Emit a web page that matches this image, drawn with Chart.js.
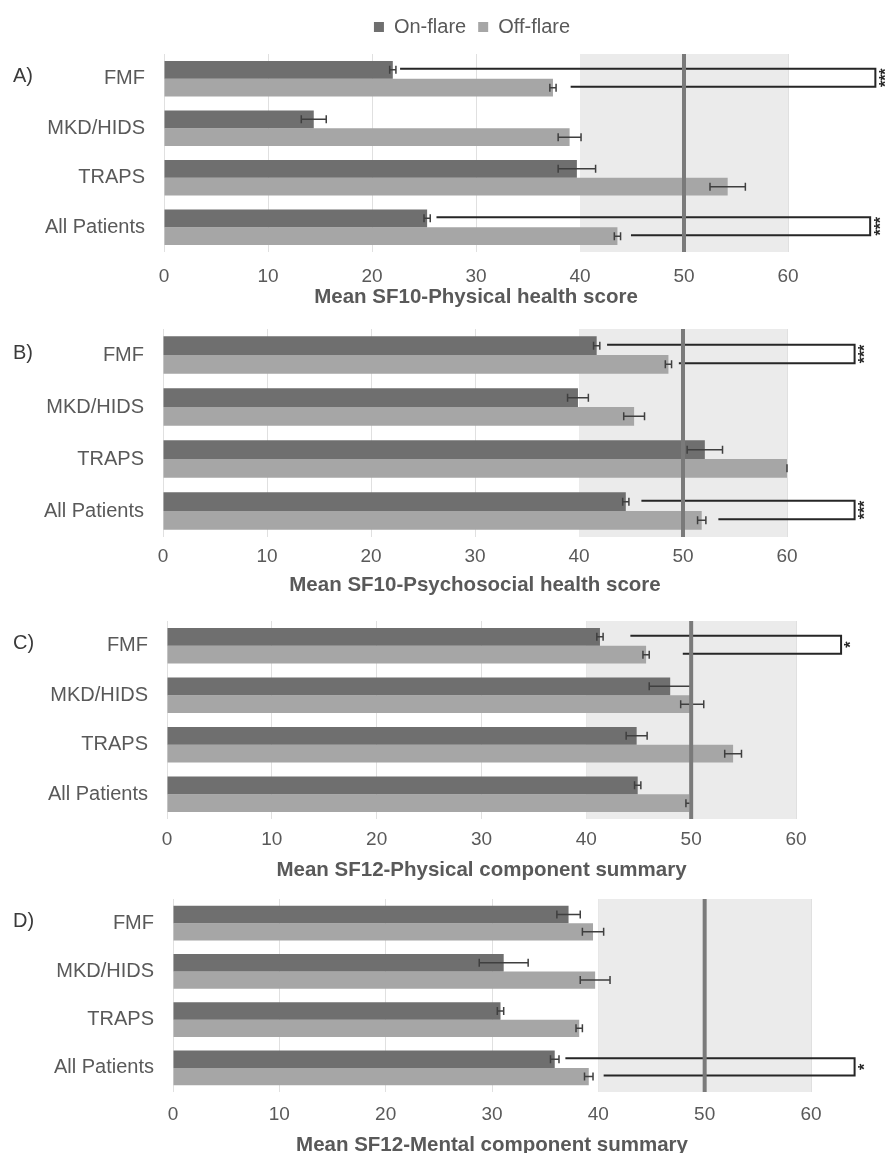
<!DOCTYPE html>
<html>
<head>
<meta charset="utf-8">
<script src="https://cdn.jsdelivr.net/npm/chart.js@4.4.1/dist/chart.umd.min.js"></script>
<style>
  html, body { margin: 0; padding: 0; background: #ffffff; width: 885px; height: 1153px; overflow: hidden; }
  body { position: relative; }
  canvas { position: absolute; left: 0; }
</style>
</head>
<body>
<canvas id="panelA"></canvas>
<canvas id="panelB"></canvas>
<canvas id="panelC"></canvas>
<canvas id="panelD"></canvas>
<script>
// ---- data ----
const categories = ['FMF', 'MKD/HIDS', 'TRAPS', 'All Patients'];
const seriesNames = ['On-flare', 'Off-flare'];
const xTicks = [0, 10, 20, 30, 40, 50, 60];
const panelLetters = ['A)', 'B)', 'C)', 'D)'];
const axisTitles = [
  'Mean SF10-Physical health score',
  'Mean SF10-Psychosocial health score',
  'Mean SF12-Physical component summary',
  'Mean SF12-Mental component summary'
];

// A) SF10 physical
const onFlareA = [22.0, 14.4, 39.7, 25.3];
const onFlareErrA = [0.3, 1.2, 1.8, 0.3];
const offFlareA = [37.4, 39.0, 54.2, 43.6];
const offFlareErrA = [0.3, 1.1, 1.7, 0.3];

// B) SF10 psychosocial
const onFlareB = [41.7, 39.9, 52.1, 44.5];
const onFlareErrB = [0.3, 1.0, 1.7, 0.3];
const offFlareB = [48.6, 45.3, 60.0, 51.8];
const offFlareErrB = [0.3, 1.0, 0.0, 0.4];

// C) SF12 physical
const onFlareC = [41.3, 48.0, 44.8, 44.9];
const onFlareErrC = [0.3, 2.0, 1.0, 0.3];
const offFlareC = [45.7, 50.1, 54.0, 49.8];
const offFlareErrC = [0.3, 1.1, 0.8, 0.3];

// D) SF12 mental
const onFlareD = [37.2, 31.1, 30.8, 35.9];
const onFlareErrD = [1.1, 2.3, 0.3, 0.4];
const offFlareD = [39.5, 39.7, 38.2, 39.1];
const offFlareErrD = [1.0, 1.4, 0.3, 0.4];

// normative range and population mean
const normalRange = [40, 60];
const populationMean = 50;

// significance brackets, in score units along the x axis
const bracketsA = [
  { category: 'FMF', onFrom: 22.7, offFrom: 39.1, to: 68.4, mark: '***' },
  { category: 'All Patients', onFrom: 26.2, offFrom: 44.9, to: 67.9, mark: '***' }
];
const bracketsB = [
  { category: 'FMF', onFrom: 42.7, offFrom: 49.6, to: 66.5, mark: '***' },
  { category: 'All Patients', onFrom: 46.0, offFrom: 53.4, to: 66.5, mark: '***' }
];
const bracketsC = [
  { category: 'FMF', onFrom: 44.2, offFrom: 49.2, to: 64.3, mark: '*' }
];
const bracketsD = [
  { category: 'All Patients', onFrom: 36.9, offFrom: 40.5, to: 64.1, mark: '*' }
];

// ---- styling ----
const FONT = '"Liberation Sans", Arial, sans-serif';
const COLORS = {
  on: '#6f6f6f',
  off: '#a6a6a6',
  band: '#ebebeb',
  mean: '#7a7a7a',
  text: '#595959',
  letter: '#3a3a3a',
  bracket: '#262626',
  err: '#3f3f3f',
  grid: '#e0e0e0'
};

Chart.defaults.font.family = FONT;
Chart.defaults.color = COLORS.text;

// page geometry of each panel (pixels)
const panelLayout = [
  { id: 'panelA', top: 0,   areaTop: 54,  areaBottom: 252,  left: 164, right: 788, tickMid: 277,  titleMid: 297,  legend: true },
  { id: 'panelB', top: 318, areaTop: 329, areaBottom: 537,  left: 163, right: 787, tickMid: 557,  titleMid: 585,  legend: false },
  { id: 'panelC', top: 610, areaTop: 621, areaBottom: 819,  left: 167, right: 796, tickMid: 840,  titleMid: 870,  legend: false },
  { id: 'panelD', top: 888, areaTop: 899, areaBottom: 1092, left: 173, right: 811, tickMid: 1115, titleMid: 1145, legend: false }
];

const panelData = [
  { on: onFlareA, onErr: onFlareErrA, off: offFlareA, offErr: offFlareErrA, brackets: bracketsA },
  { on: onFlareB, onErr: onFlareErrB, off: offFlareB, offErr: offFlareErrB, brackets: bracketsB },
  { on: onFlareC, onErr: onFlareErrC, off: offFlareC, offErr: offFlareErrC, brackets: bracketsC },
  { on: onFlareD, onErr: onFlareErrD, off: offFlareD, offErr: offFlareErrD, brackets: bracketsD }
];

// ---- plugins ----
// centre the legend over the whole figure and lift it a little
const legendPlacePlugin = {
  id: 'legendPlace',
  beforeDraw(chart, args, opts) {
    const lg = chart.legend;
    if (!lg || !lg.options.display) return;
    const h = lg.bottom - lg.top;
    lg.left = opts.left;
    lg.right = opts.right;
    lg.top = opts.top;
    lg.bottom = opts.top + h;
  }
};

const rangeBandPlugin = {
  id: 'rangeBand',
  beforeDatasetsDraw(chart, args, opts) {
    const { ctx, chartArea: a, scales: { x } } = chart;
    const x0 = x.getPixelForValue(opts.from);
    const x1 = x.getPixelForValue(opts.to);
    ctx.save();
    ctx.fillStyle = opts.color;
    ctx.fillRect(x0, a.top, x1 - x0, a.bottom - a.top);
    ctx.restore();
  }
};

const errorBarPlugin = {
  id: 'errorBars',
  afterDatasetsDraw(chart, args, opts) {
    const { ctx, scales: { x } } = chart;
    ctx.save();
    ctx.strokeStyle = opts.color;
    ctx.lineWidth = 1.5;
    chart.data.datasets.forEach((ds, i) => {
      const meta = chart.getDatasetMeta(i);
      meta.data.forEach((bar, j) => {
        const v = ds.data[j];
        const e = ds.errors[j];
        const xl = x.getPixelForValue(v - e);
        const xr = x.getPixelForValue(v + e);
        const y = bar.y;
        const h = 4;
        ctx.beginPath();
        ctx.moveTo(xl, y); ctx.lineTo(xr, y);
        ctx.moveTo(xl, y - h); ctx.lineTo(xl, y + h);
        ctx.moveTo(xr, y - h); ctx.lineTo(xr, y + h);
        ctx.stroke();
      });
    });
    ctx.restore();
  }
};

const bracketPlugin = {
  id: 'sigBrackets',
  afterDraw(chart, args, opts) {
    const { ctx, scales: { x } } = chart;
    const onMeta = chart.getDatasetMeta(0);
    const offMeta = chart.getDatasetMeta(1);
    ctx.save();
    (opts.items || []).forEach(b => {
      const j = chart.data.labels.indexOf(b.category);
      const yOn = onMeta.data[j].y - 1;
      const yOff = offMeta.data[j].y - 1;
      const xEnd = x.getPixelForValue(b.to);
      ctx.strokeStyle = opts.color;
      ctx.lineWidth = 2;
      ctx.beginPath();
      ctx.moveTo(x.getPixelForValue(b.onFrom), yOn);
      ctx.lineTo(xEnd, yOn);
      ctx.lineTo(xEnd, yOff);
      ctx.lineTo(x.getPixelForValue(b.offFrom), yOff);
      ctx.stroke();
      ctx.save();
      ctx.translate(xEnd + 11, (yOn + yOff) / 2);
      ctx.rotate(-Math.PI / 2);
      ctx.fillStyle = opts.color;
      ctx.font = 'bold 16px ' + FONT;
      ctx.textAlign = 'center';
      ctx.textBaseline = 'middle';
      ctx.fillText(b.mark, 0, 0);
      ctx.restore();
    });
    ctx.restore();
  }
};

const meanLinePlugin = {
  id: 'meanLine',
  afterDraw(chart, args, opts) {
    const { ctx, chartArea: a, scales: { x } } = chart;
    const px = x.getPixelForValue(opts.value);
    ctx.save();
    ctx.strokeStyle = opts.color;
    ctx.lineWidth = 4;
    ctx.beginPath();
    ctx.moveTo(px, a.top);
    ctx.lineTo(px, a.bottom);
    ctx.stroke();
    ctx.restore();
  }
};

const panelLetterPlugin = {
  id: 'panelLetter',
  afterDraw(chart, args, opts) {
    const { ctx } = chart;
    const y = chart.scales.y.getPixelForValue(0) - 2;
    ctx.save();
    ctx.fillStyle = opts.color;
    ctx.font = '20px ' + FONT;
    ctx.textAlign = 'left';
    ctx.textBaseline = 'middle';
    ctx.fillText(opts.text, 13, y);
    ctx.restore();
  }
};

// ---- build the four panels ----
const CANVAS_W = 885;
const TICK_LH = 22.8;   // 19px * 1.2
const TITLE_LH = 20.5;  // 20.5px * 1.0

panelLayout.forEach((L, p) => {
  const D = panelData[p];
  const canvas = document.getElementById(L.id);
  const titleBottom = L.titleMid + TITLE_LH / 2;
  const height = Math.ceil(titleBottom - L.top + 2);
  canvas.width = CANVAS_W;
  canvas.height = height;
  canvas.style.top = L.top + 'px';
  canvas.style.width = CANVAS_W + 'px';
  canvas.style.height = height + 'px';

  const padTop = L.legend ? 12 : (L.areaTop - L.top);
  const padBottom = (L.top + height) - titleBottom;
  const xHeight = titleBottom - L.areaBottom;
  const tickPad = L.tickMid - L.areaBottom - TICK_LH / 2;

  new Chart(canvas, {
    type: 'bar',
    data: {
      labels: categories,
      datasets: [
        { label: seriesNames[0], data: D.on, errors: D.onErr, backgroundColor: COLORS.on, borderWidth: 0 },
        { label: seriesNames[1], data: D.off, errors: D.offErr, backgroundColor: COLORS.off, borderWidth: 0 }
      ]
    },
    options: {
      indexAxis: 'y',
      responsive: false,
      animation: false,
      devicePixelRatio: 1,
      categoryPercentage: 0.72,
      barPercentage: 1.0,
      layout: { padding: { top: padTop, left: 0, right: CANVAS_W - L.right, bottom: padBottom } },
      scales: {
        x: {
          min: 0, max: 60,
          afterBuildTicks: s => { s.ticks = xTicks.map(v => ({ value: v })); },
          afterFit: s => { s.height = xHeight; },
          grid: { color: COLORS.grid, lineWidth: 1, drawTicks: false },
          border: { display: false },
          ticks: { color: COLORS.text, font: { size: 19 }, padding: tickPad },
          title: {
            display: true,
            text: axisTitles[p],
            color: COLORS.text,
            font: { size: 20.5, weight: 'bold', lineHeight: 1 },
            padding: 0
          }
        },
        y: {
          afterFit: s => { s.width = L.left; s.paddingTop = 0; s.paddingBottom = 0; },
          grid: { display: false, drawTicks: false },
          border: { display: false },
          ticks: { color: COLORS.text, font: { size: 20 }, padding: 19 }
        }
      },
      plugins: {
        legend: {
          display: L.legend,
          position: 'top',
          labels: { boxWidth: 10, boxHeight: 10, padding: 12, color: COLORS.text, font: { size: 20 } }
        },
        legendPlace: { left: 156, right: 788, top: 5 },
        tooltip: { enabled: false },
        rangeBand: { from: normalRange[0], to: normalRange[1], color: COLORS.band },
        errorBars: { color: COLORS.err },
        sigBrackets: { items: D.brackets, color: COLORS.bracket },
        meanLine: { value: populationMean, color: COLORS.mean },
        panelLetter: { text: panelLetters[p], color: COLORS.letter }
      }
    },
    plugins: [legendPlacePlugin, rangeBandPlugin, errorBarPlugin, bracketPlugin, meanLinePlugin, panelLetterPlugin]
  });
});
</script>
</body>
</html>
